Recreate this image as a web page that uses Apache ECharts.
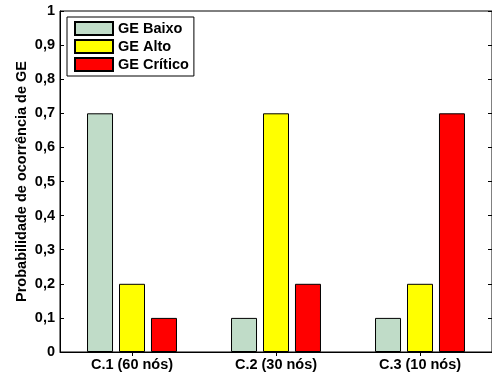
<!DOCTYPE html>
<html><head><meta charset="utf-8">
<script src="https://cdn.jsdelivr.net/npm/echarts@6/dist/echarts.min.js"></script>
<style>html,body{margin:0;padding:0;background:#fff}#c{width:492px;height:377px}</style>
</head><body><div id="c"></div>
<script>
const categories = ['C.1 (60 nós)', 'C.2 (30 nós)', 'C.3 (10 nós)'];
const seriesNames = ['GE Baixo', 'GE Alto', 'GE Crítico'];
const baixo = [0.7, 0.1, 0.1];
const alto = [0.2, 0.7, 0.2];
const critico = [0.1, 0.2, 0.7];
const colors = ['#c0dcc8', '#ffff00', '#ff0000'];
const font = 'Liberation Sans, Arial, Helvetica, sans-serif';
const fs = 14.5;

const chart = echarts.init(document.getElementById('c'), null, {renderer: 'canvas'});
const mk = (name, data, color) => ({
  name, type: 'bar', data, barWidth: 26, barGap: '23%',
  itemStyle: {color, borderColor: '#000', borderWidth: 1},
  emphasis: {disabled: true}
});
chart.setOption({
  animation: false,
  textStyle: {fontFamily: font},
  grid: {left: 60, top: 11, right: -3, bottom: 25, show: true, borderColor: '#000', borderWidth: 1, containLabel: false},
  legend: {
    left: 67, top: 17, orient: 'vertical', icon: 'rect', itemWidth: 38, itemHeight: 13, itemGap: 3,
    padding: [4, 5, 4, 7], borderColor: '#000', borderWidth: 1, backgroundColor: '#fff',
    textStyle: {fontFamily: font, fontWeight: 'bold', fontSize: fs, color: '#000'},
    data: seriesNames, selectedMode: false
  },
  xAxis: [{
    type: 'category', data: categories,
    axisLine: {lineStyle: {color: '#000'}},
    axisTick: {show: false},
    axisLabel: {color: '#000', fontWeight: 'bold', fontSize: fs, fontFamily: font, margin: 5}
  }, {
    type: 'category', data: categories, position: 'top',
    axisLine: {show: false}, axisTick: {show: true, inside: true, alignWithLabel: true, length: 4, lineStyle: {color: '#000'}},
    axisLabel: {show: false}
  }],
  yAxis: [{
    type: 'value', min: 0, max: 1, interval: 0.1,
    name: 'Probabilidade de ocorrência de GE', nameLocation: 'middle', nameGap: 31, nameMoveOverlap: false,
    nameTextStyle: {color: '#000', fontWeight: 'bold', fontSize: fs, fontFamily: font},
    axisLine: {show: true, lineStyle: {color: '#000'}},
    axisTick: {show: true, inside: true, length: 4, lineStyle: {color: '#000'}},
    splitLine: {show: false},
    axisLabel: {color: '#000', fontWeight: 'bold', fontSize: fs, fontFamily: font, margin: 5,
      formatter: v => String(Math.round(v * 10) / 10).replace('.', ',')}
  }, {
    type: 'value', min: 0, max: 1, interval: 0.1, position: 'right',
    axisLine: {show: false}, axisTick: {show: true, inside: true, length: 4, lineStyle: {color: '#000'}},
    splitLine: {show: false}, axisLabel: {show: false}
  }],
  series: [mk(seriesNames[0], baixo, colors[0]), mk(seriesNames[1], alto, colors[1]), mk(seriesNames[2], critico, colors[2])]
});
</script></body></html>
